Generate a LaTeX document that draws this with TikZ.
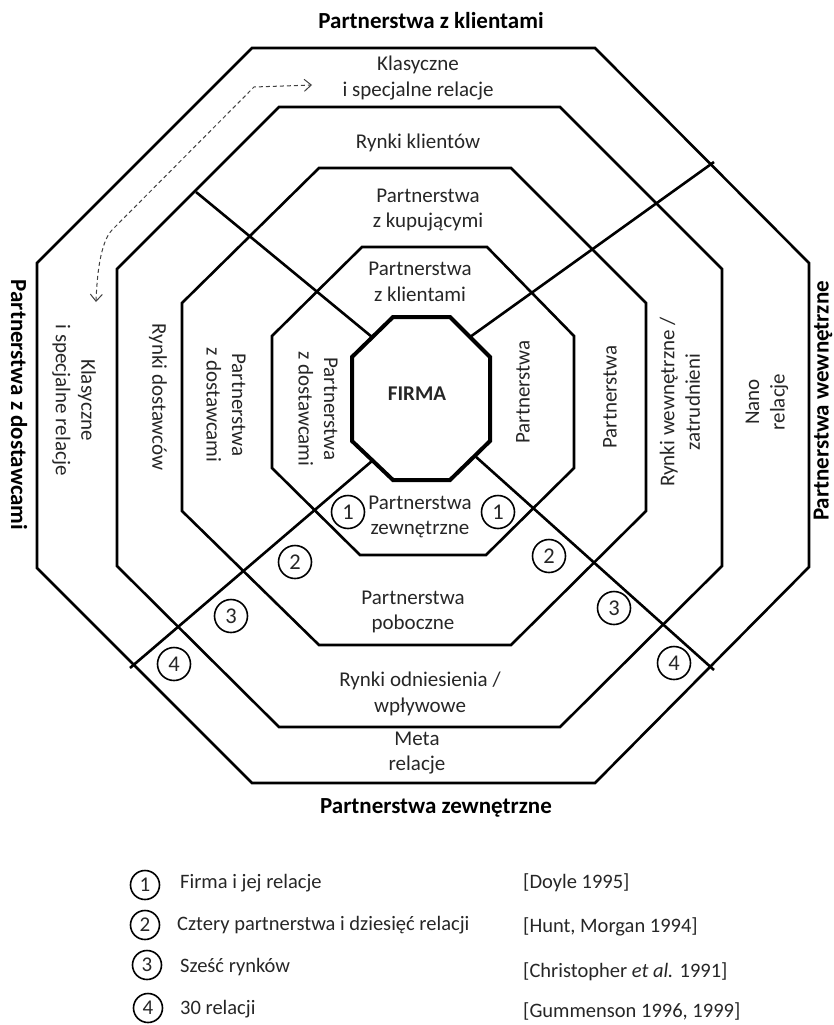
\documentclass[tikz,border=0pt]{standalone}
\usepackage{fontspec}
\setmainfont{Carlito}
\usetikzlibrary{arrows.meta}

\begin{document}
\begin{tikzpicture}[x=1pt,y=-1pt,
  ring/.style={line width=2.6pt, line join=miter},
  core/.style={line width=4pt, line join=miter},
  cross/.style={line width=2.6pt},
  lbl/.style={font=\fontsize{21}{25.5}\selectfont, align=center, text=black!85, inner sep=0pt},
  side/.style={font=\bfseries\fontsize{23}{28}\selectfont, inner sep=0pt},
  num/.style={circle, draw, line width=1.6pt, minimum size=33pt, inner sep=0pt,
              font=\fontsize{22.5}{26}\selectfont, text=black!85},
  keynum/.style={circle, draw, line width=1.6pt, minimum size=29pt, inner sep=0pt,
              font=\fontsize{21}{25}\selectfont, text=black!85},
  keytxt/.style={font=\fontsize{20.5}{25}\selectfont, anchor=west, inner sep=0pt, text=black!85},
  dasharrow/.style={line width=1pt, black!75, dash pattern=on 4pt off 3pt,
              {Straight Barb[length=7pt,width=12pt]}-{Straight Barb[length=7pt,width=12pt]}}
]
\useasboundingbox (0,0) rectangle (833,1025);

% nested octagons, outermost first
\draw[ring] (252,48) -- (595,48) -- (809,263) -- (809,567) -- (595,783) -- (252,783) -- (37,568) -- (37,263) -- cycle;
\draw[ring] (279,107) -- (560,107) -- (722,269) -- (722,566) -- (560,727) -- (279,727) -- (117,566) -- (117,269) -- cycle;
\draw[ring] (319,168) -- (511,168) -- (646,303) -- (646,511) -- (511,645) -- (319,645) -- (182,511) -- (182,303) -- cycle;
\draw[ring] (362,247) -- (487,247) -- (574,336) -- (574,468) -- (486,555) -- (360,555) -- (272,468) -- (272,336) -- cycle;
\draw[core] (393,317) -- (450,317) -- (490,357) -- (490,441) -- (450,480) -- (393,480) -- (352,441) -- (352,357) -- cycle;

% dividing lines from the core outwards
\coordinate (ulIn) at (372,337);  \coordinate (ulOut) at (196,192);
\coordinate (urIn) at (470,337);  \coordinate (urOut) at (714,162);
\coordinate (llIn) at (372,461);  \coordinate (llOut) at (130,668);
\coordinate (lrIn) at (475,456);  \coordinate (lrOut) at (714,670);
\draw[cross] (ulIn) -- (ulOut);
\draw[cross] (urIn) -- (urOut);
\draw[cross] (llIn) -- (llOut);
\draw[cross] (lrIn) -- (lrOut);

% dashed direction arrow in the outer ring
\coordinate (dTop) at (312,85);
\coordinate (dBot) at (96,302);
\draw[dasharrow] (dBot) .. controls (97,276) and (100,243) .. (112,230) -- (254,87) -- (dTop);

% side headings
\node[side] (hTop) at (431,21) {Partnerstwa z klientami};
\node[side] (hBot) at (436,808) {Partnerstwa zewnętrzne};
\node[side, rotate=-90] (hLeft) at (19,405) {Partnerstwa z dostawcami};
\node[side, rotate=90] (hRight) at (823,401) {Partnerstwa wewnętrzne};

% horizontal ring labels
\node[lbl] (tA) at (418,78) {Klasyczne\\i specjalne relacje};
\node[lbl] (tB) at (418,143) {Rynki klientów};
\node[lbl] (tC) at (428,210) {Partnerstwa\\z kupującymi};
\node[lbl] (tD) at (420,282) {Partnerstwa\\z klientami};
\node[lbl, font=\bfseries\fontsize{21}{25}\selectfont] (firm) at (417,394) {FIRMA};
\node[lbl] (tE) at (420,517) {Partnerstwa\\zewnętrzne};
\node[lbl] (tF) at (413,612) {Partnerstwa\\poboczne};
\node[lbl] (tG) at (420,694) {Rynki odniesienia /\\wpływowe};
\node[lbl] (tH) at (417,753) {Meta\\relacje};

% vertical ring labels
\node[lbl, rotate=-90] (lA) at (74,400) {Klasyczne\\i specjalne relacje};
\node[lbl, rotate=-90] (lB) at (158,397) {Rynki dostawców};
\node[lbl, rotate=-90] (lC) at (226,405) {Partnerstwa\\z dostawcami};
\node[lbl, rotate=-90] (lD) at (318,409) {Partnerstwa\\z dostawcami};
\node[lbl, rotate=90] (rD) at (523,392) {Partnerstwa};
\node[lbl, rotate=90] (rC) at (610,397) {Partnerstwa};
\node[lbl, rotate=90] (rB) at (680,402) {Rynki wewnętrzne /\\zatrudnieni};
\node[lbl, rotate=90] (rA) at (767,402) {Nano\\relacje};

% circled model numbers
\node[num] (n1l) at (348,512) {1};
\node[num] (n1r) at (498,512) {1};
\node[num] (n2l) at (295,562) {2};
\node[num] (n2r) at (549,556) {2};
\node[num] (n3l) at (231,616) {3};
\node[num] (n3r) at (614,608) {3};
\node[num] (n4l) at (174,664) {4};
\node[num] (n4r) at (674,663) {4};

% key
\node[keynum] (k1) at (145,885) {1};
\node[keynum] (k2) at (145,925) {2};
\node[keynum] (k3) at (147,965) {3};
\node[keynum] (k4) at (148,1008) {4};
\node[keytxt] (k1t) at (180,883) {Firma i jej relacje};
\node[keytxt] (k2t) at (177,925) {Cztery partnerstwa i dziesięć relacji};
\node[keytxt] (k3t) at (180,967) {Sześć rynków};
\node[keytxt] (k4t) at (180,1009) {30 relacji};
\node[keytxt] (k1r) at (523,883) {[Doyle 1995]};
\node[keytxt] (k2r) at (523,927) {[Hunt, Morgan 1994]};
\node[keytxt] (k3r) at (523,972) {[Christopher \textit{et al.} 1991]};
\node[keytxt] (k4r) at (523,1011) {[Gummenson 1996, 1999]};
\end{tikzpicture}
\end{document}
